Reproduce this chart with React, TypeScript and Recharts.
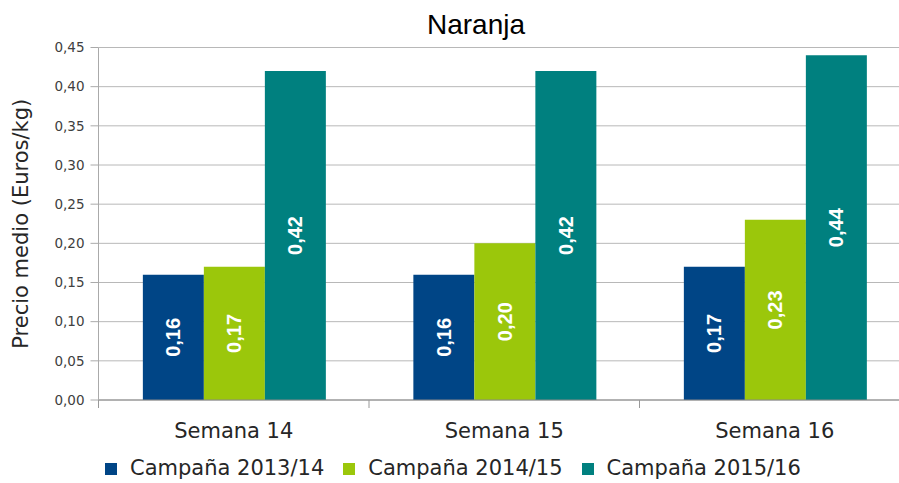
import React from "react";
import { BarChart, Bar, XAxis, YAxis, CartesianGrid, LabelList, Label } from "recharts";

const categories = ["Semana 14", "Semana 15", "Semana 16"];
const seriesNames = ["Campaña 2013/14", "Campaña 2014/15", "Campaña 2015/16"];
const campaign1314 = [0.16, 0.16, 0.17];
const campaign1415 = [0.17, 0.2, 0.23];
const campaign1516 = [0.42, 0.42, 0.44];
const yTicks = [0, 0.05, 0.1, 0.15, 0.2, 0.25, 0.3, 0.35, 0.4, 0.45];

const colors = ["#004586", "#9bc70b", "#00807f"];
const keys = ["c1314", "c1415", "c1516"];

const data = categories.map((name, i) => ({
  name,
  c1314: campaign1314[i],
  c1415: campaign1415[i],
  c1516: campaign1516[i],
}));

const fmt = (v: number) => v.toFixed(2).replace(".", ",");

// white rotated value in the middle of each bar
const renderValue = (props: any) => {
  const vb = props.viewBox || props;
  const x = vb.x + vb.width / 2;
  const y = vb.y + vb.height / 2;
  return (
    <text
      x={x}
      y={y}
      transform={`rotate(-90 ${x} ${y})`}
      textAnchor="middle"
      dominantBaseline="central"
      fill="#fff"
      fontWeight="bold"
      fontSize={20}
      fontFamily="Liberation Sans"
    >
      {fmt(Number(props.value))}
    </text>
  );
};

// category label plus tick marks on the category boundaries
const CategoryTick = (props: any) => {
  const { x, y, payload, index } = props;
  const half = payload && payload.offset ? payload.offset : 135.25;
  return (
    <g>
      <line x1={x - half} x2={x - half} y1={y} y2={y + 8} stroke="#999" />
      {index === categories.length - 1 && (
        <line x1={x + half} x2={x + half} y1={y} y2={y + 8} stroke="#999" />
      )}
      <text x={x} y={y + 38} textAnchor="middle" fontSize={21} fill="#262626" fontFamily="DejaVu Sans">
        {payload.value}
      </text>
    </g>
  );
};

export default function App() {
  return (
    <div
      style={{
        position: "absolute",
        left: 0,
        top: 0,
        width: 899,
        height: 483,
        overflow: "hidden",
        background: "#fff",
        fontFamily: "DejaVu Sans",
      }}
    >
      <div
        style={{
          position: "absolute",
          left: 0,
          top: 11,
          width: 952,
          textAlign: "center",
          fontFamily: "Liberation Sans",
          fontSize: 28,
          lineHeight: "28px",
          color: "#000",
        }}
      >
        Naranja
      </div>
      <BarChart
        width={930}
        height={483}
        data={data}
        margin={{ top: 47.5, right: 20, left: 0, bottom: 0 }}
        barCategoryGap="16.4%"
        barGap={0}
      >
        <CartesianGrid horizontal vertical={false} stroke="#b8b8b8" />
        <XAxis
          dataKey="name"
          height={83}
          tickSize={0}
          tickMargin={0}
          tickLine={false}
          axisLine={{ stroke: "#888" }}
          tick={<CategoryTick />}
          interval={0}
        />
        <YAxis
          width={98.5}
          domain={[0, 0.45]}
          ticks={yTicks}
          tickFormatter={fmt}
          tickSize={8}
          tickMargin={6}
          tickLine={{ stroke: "#aaa" }}
          axisLine={{ stroke: "#aaa" }}
          tick={{ fontSize: 13.5, fill: "#404040", fontFamily: "DejaVu Sans" }}
        >
          <Label
            content={(p: any) => {
              const vb = p.viewBox || { y: 47.5, height: 352.5 };
              const cy = vb.y + vb.height / 2;
              return (
                <text
                  x={21}
                  y={cy}
                  transform={`rotate(-90 21 ${cy})`}
                  textAnchor="middle"
                  dominantBaseline="central"
                  fontSize={21}
                  fill="#262626"
                  fontFamily="DejaVu Sans"
                >
                  Precio medio (Euros/kg)
                </text>
              );
            }}
          />
        </YAxis>
        {keys.map((k, i) => (
          <Bar key={k} dataKey={k} name={seriesNames[i]} fill={colors[i]} isAnimationActive={false}>
            <LabelList dataKey={k} content={renderValue} />
          </Bar>
        ))}
      </BarChart>
      <div
        style={{
          position: "absolute",
          left: 105,
          top: 458,
          display: "flex",
          alignItems: "center",
          fontSize: 21,
          lineHeight: "21px",
          color: "#262626",
          whiteSpace: "nowrap",
        }}
      >
        {seriesNames.map((s, i) => (
          <div key={s} style={{ display: "flex", alignItems: "center", marginRight: 19 }}>
            <span style={{ width: 12, height: 12, background: colors[i], marginRight: 13, display: "inline-block" }} />
            <span>{s}</span>
          </div>
        ))}
      </div>
    </div>
  );
}
